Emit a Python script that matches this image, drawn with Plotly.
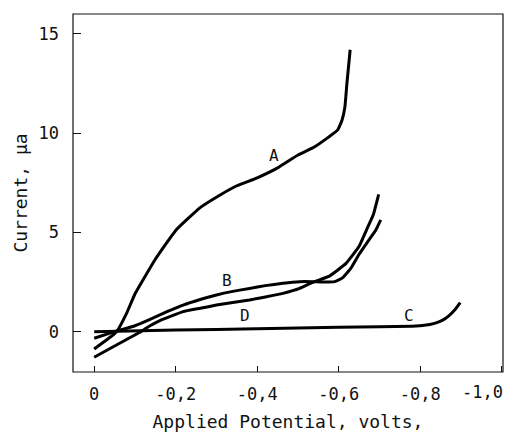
import plotly.graph_objects as go

# Curve data (potential in volts, current in microamps)
a_x = [0, -0.03, -0.055, -0.08, -0.10, -0.15, -0.20, -0.26, -0.31, -0.35, -0.40, -0.45,
       -0.50, -0.54, -0.575, -0.597, -0.608, -0.615, -0.62, -0.628]
a_y = [-0.87, -0.42, 0.0, 0.95, 1.9, 3.65, 5.1, 6.25, 6.9, 7.35, 7.75, 8.25,
       8.9, 9.3, 9.8, 10.15, 10.65, 11.3, 12.5, 14.2]

b_x = [0, -0.05, -0.10, -0.137, -0.18, -0.218, -0.26, -0.30, -0.34, -0.381, -0.42, -0.463,
       -0.504, -0.536, -0.56, -0.59, -0.61, -0.63, -0.65, -0.67, -0.691, -0.703]
b_y = [-0.33, 0.0, 0.3, 0.62, 1.02, 1.34, 1.62, 1.85, 2.03, 2.18, 2.32, 2.44,
       2.52, 2.52, 2.5, 2.52, 2.72, 3.2, 3.9, 4.5, 5.12, 5.63]

c_x = [0, -0.2, -0.4, -0.6, -0.7, -0.78, -0.81, -0.835, -0.855, -0.87, -0.885, -0.898]
c_y = [0, 0.08, 0.15, 0.22, 0.25, 0.28, 0.32, 0.42, 0.58, 0.8, 1.1, 1.46]

d_x = [0, -0.05, -0.114, -0.137, -0.16, -0.218, -0.26, -0.30, -0.34, -0.381, -0.42, -0.463,
       -0.504, -0.536, -0.577, -0.618, -0.65, -0.668, -0.685, -0.698]
d_y = [-1.29, -0.72, 0.0, 0.3, 0.55, 1.01, 1.18, 1.34, 1.47, 1.6, 1.75, 1.93,
       2.18, 2.49, 2.8, 3.44, 4.3, 5.12, 5.9, 6.91]

curve_labels = ["A", "B", "C", "D"]
label_x = [-0.44, -0.325, -0.773, -0.369]
label_y = [8.89, 2.6, 0.84, 0.84]

x_ticks = [0, -0.2, -0.4, -0.6, -0.8, -1.0]
x_ticktext = ["0", "-0,2", "-0,4", "-0,6", "-0,8", "-1,0"]
y_ticks = [0, 5, 10, 15]
y_ticktext = ["0", "5", "10", "15"]

FONT = "DejaVu Sans Mono"
INK = "#111111"

fig = go.Figure()
for xs, ys in [(a_x, a_y), (b_x, b_y), (c_x, c_y), (d_x, d_y)]:
    fig.add_trace(go.Scatter(x=xs, y=ys, mode="lines",
                             line=dict(color="black", width=3, shape="spline", smoothing=0.35),
                             showlegend=False, hoverinfo="skip", cliponaxis=False))

for t, lx, ly in zip(curve_labels, label_x, label_y):
    fig.add_annotation(x=lx, y=ly, text=t, showarrow=False,
                       font=dict(family=FONT, size=16, color=INK))

# the last x tick label sits at the right frame edge; place it as an annotation so it is not cut
fig.add_annotation(x=x_ticks[-1], y=0, xref="x", yref="paper", yanchor="top", xanchor="right",
                   xshift=3, yshift=-8, text=x_ticktext[-1], showarrow=False,
                   font=dict(family=FONT, size=17, color=INK))
shown_ticktext = x_ticktext[:-1] + [""]

# frame around the plotting area
fig.add_shape(type="rect", xref="paper", yref="paper", x0=0, x1=1, y0=0, y1=1,
              line=dict(color=INK, width=1.2), layer="above")

fig.update_layout(
    width=518, height=432,
    margin=dict(l=73, r=15, t=14, b=60, autoexpand=False),
    paper_bgcolor="white", plot_bgcolor="white",
    font=dict(family=FONT, color=INK),
)
fig.update_xaxes(
    range=[0.052, -1.003], tickvals=x_ticks, ticktext=shown_ticktext,
    ticks="inside", ticklen=6, tickcolor=INK, tickwidth=1,
    showline=False, showgrid=False, zeroline=False, automargin=False,
    ticklabelstandoff=10,
    tickfont=dict(family=FONT, size=17, color=INK),
    title=dict(text="Applied Potential, volts,", font=dict(family=FONT, size=18, color=INK), standoff=12),
)
fig.update_yaxes(
    range=[-2.03, 16.0], tickvals=y_ticks, ticktext=y_ticktext,
    ticks="inside", ticklen=8, tickcolor=INK, tickwidth=1,
    showline=False, showgrid=False, zeroline=False, automargin=False,
    ticklabelstandoff=13,
    tickfont=dict(family=FONT, size=17, color=INK),
    title=dict(text="Current, μa", font=dict(family=FONT, size=18, color=INK), standoff=6),
)

# remove the default page margin so the figure sits exactly in the window
fig.write_html("out.html", config={"displayModeBar": False},
               post_script="document.body.style.margin='0';document.body.style.overflow='hidden';")
